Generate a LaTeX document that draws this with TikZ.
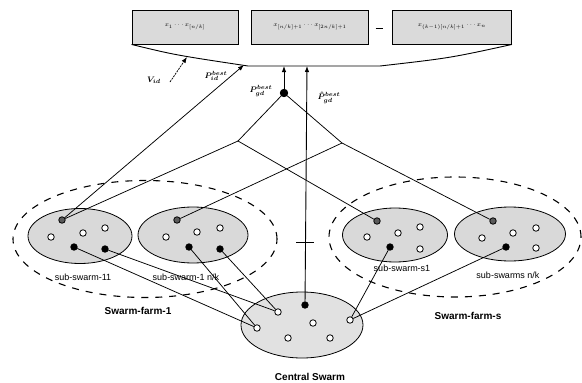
\documentclass[tikz,border=0pt]{standalone}
\usepackage{amsmath}
\usepackage{fontspec}
\setmainfont{Liberation Sans}
\usetikzlibrary{shapes.geometric,arrows.meta}
\definecolor{boxgray}{HTML}{DADADA}
\definecolor{swarmgray}{HTML}{D9D9D9}
\definecolor{bestgray}{HTML}{5A5A5A}
\tikzset{
  dim/.style={draw, fill=boxgray, line width=0.9pt, minimum height=34pt, inner sep=1pt, font=\fontsize{6.5}{7}\selectfont},
  subswarm/.style={ellipse, draw, fill=swarmgray, line width=0.8pt, inner sep=0pt},
  farmring/.style={ellipse, draw, line width=1.1pt, dash pattern=on 7pt off 7pt, inner sep=0pt},
  pdot/.style={circle, draw, line width=0.8pt, minimum size=6.5pt, inner sep=0pt},
  wdot/.style={pdot, fill=white},
  bdot/.style={pdot, fill=black},
  gdot/.style={pdot, fill=bestgray},
  link/.style={line width=0.75pt},
  uparrow/.style={line width=0.9pt, -{Latex[length=6pt,width=4.5pt]}},
  sublabel/.style={font=\fontsize{9}{10}\selectfont, inner sep=0pt},
  farmlabel/.style={font=\bfseries\fontsize{10}{11}\selectfont, inner sep=0pt},
  mathlabel/.style={font=\fontsize{8.5}{9}\selectfont, inner sep=0pt}
}
\begin{document}
\begin{tikzpicture}[x=1pt,y=-1pt]
\useasboundingbox (0,0) rectangle (582,383);

% decision-vector blocks
\node[dim, minimum width=106pt] (d1) at (185,27) {$x_1\cdots x_{[n/k]}$};
\node[dim, minimum width=117pt] (d2) at (310,27) {$x_{[n/k]+1}\cdots x_{[2n/k]+1}$};
\node[dim, minimum width=119pt] (d3) at (452,27) {$x_{(k-1)[n/k]+1}\cdots x_n$};
\node[inner sep=0pt] (dd) at (379,28) {\rule{7pt}{1pt}};

% collecting tray under the blocks
\coordinate (tl) at (d1.south west);
\coordinate (tr) at (d3.south east);
\coordinate (vtip) at (187,57);
\coordinate (vtail) at (170,82);
\coordinate (ptip) at (244,65);
\coordinate (gtip) at (284,66);
\coordinate (ctip) at (307,66);
\draw[line width=0.9pt] (tl) .. controls (175,55) .. (248,66) -- (380,66) .. controls (450,58) .. (tr);

% swarm farms
\node[farmring, minimum width=264pt, minimum height=117pt] (farm1) at (145,239) {};
\node[farmring, minimum width=252pt, minimum height=120pt] (farms) at (455,237) {};

% sub-swarms
\node[subswarm, minimum width=104pt, minimum height=55pt] (s11) at (80,236) {};
\node[subswarm, minimum width=110pt, minimum height=56pt] (s1k) at (193,235) {};
\node[subswarm, minimum width=105pt, minimum height=54pt] (ss1) at (395,235) {};
\node[subswarm, minimum width=111pt, minimum height=54pt] (ssk) at (510,234) {};

% central swarm
\node[subswarm, fill=swarmgray!80, minimum width=122pt, minimum height=66pt] (cs) at (302,325) {};

% particles of sub-swarm-11
\node[gdot] (a) at (62,220) {};
\node[wdot] at (51,237) {};
\node[wdot] at (83,233) {};
\node[wdot] at (105,228) {};
\node[bdot] (a1) at (74,247) {};
\node[bdot] (a2) at (105,249) {};
% particles of sub-swarm-1 n/k
\node[gdot] (b) at (177,220) {};
\node[wdot] at (166,237) {};
\node[wdot] at (197,232) {};
\node[wdot] at (220,228) {};
\node[bdot] (b1) at (189,247) {};
\node[bdot] (b2) at (220,249) {};
% particles of sub-swarm-s1
\node[gdot] (c) at (377,221) {};
\node[wdot] at (367,237) {};
\node[wdot] at (398,233) {};
\node[wdot] at (420,227) {};
\node[bdot] (c1) at (390,247) {};
\node[wdot] at (420,249) {};
% particles of sub-swarms n/k
\node[gdot] (d) at (493,221) {};
\node[wdot] at (482,238) {};
\node[wdot] at (513,233) {};
\node[wdot] at (536,228) {};
\node[bdot] (d1p) at (506,247) {};
\node[wdot] at (536,248) {};
% particles of the central swarm
\node[bdot] (g) at (305,305) {};
\node[wdot] (e1) at (278,312) {};
\node[wdot] (e2) at (257,328) {};
\node[wdot] at (313,323) {};
\node[wdot] (e3) at (350,320) {};
\node[wdot] at (288,338) {};
\node[wdot] at (330,338) {};

% global best and the pairing of sub-swarm bests
\node[bdot, minimum size=7.5pt] (apex) at (284,93) {};
\coordinate (j1) at (238,141);
\coordinate (j2) at (342,143);
\draw[link] (a) -- (j1) -- (c);
\draw[link] (b) -- (j2) -- (d);
\draw[link] (j1) -- (apex) -- (j2);

% particles sent to the central swarm
\draw[link] (a1) -- (e2);
\draw[link] (b1) -- (e2);
\draw[link] (a2) -- (e1);
\draw[link] (b2) -- (e1);
\draw[link] (c1) -- (e3);
\draw[link] (d1p) -- (e3);

% information flowing up to the tray
\draw[uparrow, line width=0.75pt] (a) -- (ptip);
\draw[uparrow, line width=0.75pt, dash pattern=on 2pt off 1pt] (vtail) -- (vtip);
\draw[uparrow] (apex) -- (gtip);
\draw[uparrow] (g) -- (ctip);
\coordinate (tk) at (305,242);
\draw[line width=0.9pt] ([xshift=-9pt]tk) -- ([xshift=9pt]tk);

% labels
\node[mathlabel] (lv) at (154,80) {$\boldsymbol{V_{id}}$};
\node[mathlabel] (lp) at (216,76) {$\boldsymbol{P^{best}_{id}}$};
\node[mathlabel] (lg) at (261,91) {$\boldsymbol{P^{best}_{gd}}$};
\node[mathlabel] (lc) at (329,98) {$\boldsymbol{\hat{P}^{best}_{gd}}$};

\node[sublabel] at (83,277) {sub-swarm-11};
\node[sublabel] at (186,277) {sub-swarm-1 n/k};
\node[sublabel] at (402,268) {sub-swarm-s1};
\node[sublabel] at (508,275) {sub-swarms n/k};
\node[farmlabel] at (138,311) {Swarm-farm-1};
\node[farmlabel] at (468,316) {Swarm-farm-s};
\node[farmlabel] at (310,377) {Central Swarm};
\end{tikzpicture}
\end{document}
